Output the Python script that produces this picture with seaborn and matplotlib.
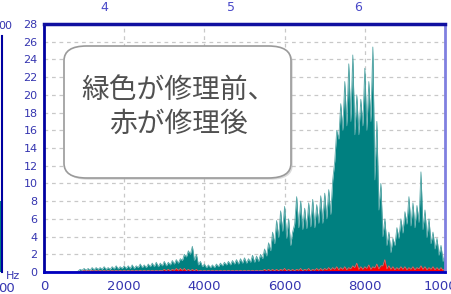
import numpy as np
import pandas as pd
import matplotlib.pyplot as plt
import seaborn as sns
from matplotlib.patches import FancyBboxPatch
from matplotlib.ticker import MultipleLocator

# spectrum read every 100 Hz: tops of the spikes and the dense body level
freq = list(range(0, 10001, 100))
green_peak = [0, 0, 0, 0, 0, 0, 0, 0, 0, 0.3,
              0.4, 0.4, 0.5, 0.5, 0.5, 0.6, 0.5, 0.6, 0.7, 0.6,
              0.7, 0.7, 0.8, 0.7, 0.9, 0.8, 0.9, 1.0, 1.1, 1.0,
              1.2, 1.1, 1.3, 1.4, 1.5, 2.0, 2.4, 2.9, 2.0, 1.2,
              0.9, 0.8, 0.8, 0.9, 1.0, 1.1, 1.2, 1.3, 1.4, 1.5,
              1.6, 1.5, 1.9, 1.8, 2.0, 2.6, 3.3, 4.5, 5.8, 6.9,
              7.4, 6.0, 4.5, 8.5, 8.0, 7.2, 7.8, 8.2, 7.6, 8.6,
              8.9, 9.3, 10.4, 16.0, 19.0, 21.5, 23.5, 24.5, 20.0, 19.5,
              23.0, 21.5, 25.4, 17.0, 10.0, 6.0, 4.5, 3.8, 5.0, 6.0,
              6.8, 8.5, 7.8, 7.5, 11.3, 7.0, 6.0, 4.5, 3.8, 3.0,
              2.2]
green_body = [0, 0, 0, 0, 0, 0, 0, 0, 0, 0.1,
              0.2, 0.2, 0.2, 0.25, 0.3, 0.3, 0.3, 0.3, 0.35, 0.35,
              0.4, 0.4, 0.4, 0.4, 0.5, 0.5, 0.5, 0.6, 0.6, 0.6,
              0.7, 0.7, 0.8, 0.9, 1.0, 1.3, 1.7, 2.0, 1.3, 0.8,
              0.6, 0.5, 0.5, 0.5, 0.6, 0.7, 0.8, 0.8, 0.9, 0.9,
              1.0, 1.0, 1.1, 1.1, 1.2, 1.5, 1.8, 2.4, 3.2, 3.9,
              4.6, 3.8, 3.0, 5.4, 5.0, 4.8, 4.9, 5.1, 5.0, 5.5,
              5.5, 6.0, 6.5, 12.5, 15.0, 16.0, 16.5, 17.0, 15.5, 15.5,
              16.5, 16.0, 17.0, 10.4, 7.0, 4.0, 3.0, 2.2, 3.0, 3.8,
              4.4, 5.4, 5.2, 5.0, 5.6, 4.8, 3.9, 3.2, 2.6, 1.9,
              1.2]
red_peak = [0, 0, 0, 0, 0, 0, 0, 0, 0, 0.1,
            0.2, 0.2, 0.2, 0.2, 0.2, 0.2, 0.2, 0.2, 0.2, 0.2,
            0.2, 0.2, 0.2, 0.2, 0.2, 0.2, 0.2, 0.2, 0.2, 0.2,
            0.3, 0.3, 0.3, 0.4, 0.4, 0.4, 0.3, 0.3, 0.3, 0.2,
            0.2, 0.2, 0.2, 0.2, 0.2, 0.2, 0.2, 0.2, 0.2, 0.2,
            0.2, 0.2, 0.2, 0.2, 0.2, 0.3, 0.3, 0.3, 0.3, 0.3,
            0.4, 0.3, 0.3, 0.3, 0.4, 0.3, 0.4, 0.3, 0.4, 0.4,
            0.4, 0.5, 0.5, 0.6, 0.5, 0.6, 0.5, 0.7, 1.0, 0.6,
            0.6, 0.8, 0.6, 0.9, 0.7, 1.4, 0.7, 0.6, 0.5, 0.6,
            0.6, 0.5, 0.6, 0.5, 0.7, 0.6, 0.5, 0.6, 0.5, 0.5,
            0.4]
red_body = [v * 0.5 for v in red_peak]

top_ticks = [1496, 4663, 7830]
top_labels = ["4", "5", "6"]
note = "緑色が修理前、\n赤が修理後"

# spikes: alternate peak / body readings half a step apart
half = [f + 50 for f in freq]
df = pd.DataFrame({
    "Hz": freq + half[:-1],
    "green": green_peak + green_body[1:],
    "red": red_peak + red_body[1:],
}).sort_values("Hz")

sns.set_theme(style="white")
plt.rcParams["font.family"] = ["Liberation Sans Narrow", "DejaVu Sans"]

fig = plt.figure(figsize=(4.52, 2.94), dpi=100)
ax = fig.add_axes([44 / 452, 22 / 294, 401 / 452, 248 / 294])

teal = "#008080"
ax.fill_between(df["Hz"], 0, df["green"], color=teal, lw=0)
sns.lineplot(data=df, x="Hz", y="green", ax=ax, color="#5aa8a8", lw=0.6)
ax.fill_between(df["Hz"], 0, df["red"], color="#ff0000", lw=0)
sns.lineplot(data=df, x="Hz", y="red", ax=ax, color="#ff6060", lw=0.5)

ax.set_xlim(0, 10000)
ax.set_ylim(0, 28)
ax.set_xlabel("")
ax.set_ylabel("")
ax.xaxis.set_major_locator(MultipleLocator(2000))
ax.xaxis.set_minor_locator(MultipleLocator(500))
ax.yaxis.set_major_locator(MultipleLocator(2))
ax.yaxis.set_minor_locator(MultipleLocator(0.5))
ax.grid(True, which="major", ls=(0, (3, 3)), color="#c8c8c8", lw=0.9)
ax.set_axisbelow(True)

blue = "#3535b0"
ax.tick_params(axis="x", which="major", direction="out", length=4, width=1,
               color="#0000c0", labelsize=9.5, labelcolor=blue, pad=2)
ax.tick_params(axis="x", which="minor", direction="out", length=3, width=1, color="#0000c0")
ax.tick_params(axis="y", which="major", direction="inout", length=7, width=1,
               color="#0000a0", labelsize=8, labelcolor=blue, pad=1)
ax.tick_params(axis="y", which="minor", direction="out", length=2, width=1, color="#0000a0")
ax.spines["left"].set(color="#0000a0", lw=2)
ax.spines["bottom"].set(color="#0000c0", lw=2)
ax.spines["top"].set(color="#1010a0", lw=2.5)
ax.spines["right"].set(color="#8080e0", lw=2)

sec = ax.secondary_xaxis("top")
sec.set_xticks(top_ticks, top_labels)
sec.tick_params(length=0, pad=7, labelsize=9, labelcolor="#4848c8")

# neighbouring panel cut off at the left edge
lx = fig.add_axes([-0.05, 22 / 294, 0.055, 236 / 294])
lx.fill_between([0, 1], 0, [0.3, 0.3], color=teal, lw=0)
lx.set_xlim(0, 1)
lx.set_ylim(0, 1)
lx.set_xticks([])
lx.set_yticks([])
for s in ["left", "top", "bottom"]:
    lx.spines[s].set_visible(False)
lx.spines["right"].set(color="#0000a0", lw=1.5)
fig.text(-2 / 452, 1 - 26 / 294, "00", color=blue, fontsize=8, va="center")
fig.text(-2 / 452, 1 - 288 / 294, "00", color=blue, fontsize=9.5, va="center")
fig.text(6 / 452, 1 - 276 / 294, "Hz", color=blue, fontsize=8, va="center")

# callout box
x0, y0, w, h = 64 / 452, 1 - 178 / 294, 227 / 452, 132 / 294
shadow = FancyBboxPatch((x0 + 0.004, y0 - 0.006), w, h, boxstyle="round,pad=0,rounding_size=0.05",
                        transform=fig.transFigure, fc="#b0b0b0", ec="none", alpha=0.45)
box = FancyBboxPatch((x0, y0), w, h, boxstyle="round,pad=0,rounding_size=0.05",
                     transform=fig.transFigure, fc="white", ec="#9a9a9a", lw=1.2)
fig.patches.extend([shadow, box])
fig.text(178 / 452, 1 - 107 / 294, note, ha="center", va="center", fontsize=20,
         multialignment="center", color="#505050", linespacing=1.15,
         family=["Noto Sans CJK JP", "DejaVu Sans"])

fig.savefig("out.png", dpi=100)
